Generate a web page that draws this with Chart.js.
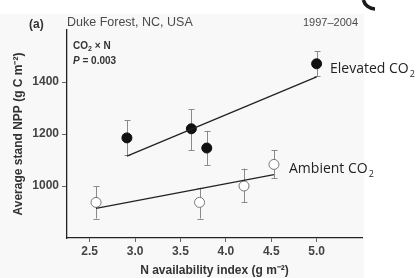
<!DOCTYPE html>
<html>
<head>
<meta charset="utf-8">
<script src="https://cdn.jsdelivr.net/npm/chart.js@4.4.1/dist/chart.umd.min.js"></script>
<style>
  html, body { margin: 0; padding: 0; background: #fff; }
  #wrap { width: 420px; height: 278px; position: relative; }
</style>
</head>
<body>
<div id="wrap"><canvas id="npp" width="420" height="278"></canvas></div>
<script>
// datos
const elevX = [2.91, 3.62, 3.79, 5.0];
const elevY = [1185, 1220, 1146, 1470];
const elevLo = [1119, 1138, 1081, 1423];
const elevHi = [1254, 1296, 1212, 1519];
const elevFitX = [2.91, 5.0];
const elevFitY = [1115, 1420];

const ambX = [2.57, 3.71, 4.2, 4.53];
const ambY = [937, 937, 1000, 1083];
const ambLo = [875, 875, 937, 1029];
const ambHi = [1000, 993, 1067, 1138];
const ambFitX = [2.57, 4.53];
const ambFitY = [914, 1044];

const xTicks = [2.5, 3.0, 3.5, 4.0, 4.5, 5.0];
const yTicks = [1000, 1200, 1400];

const pts = (xs, ys) => xs.map((x, i) => ({ x: x, y: ys[i] }));

// fondo gris claro de la figura escaneada
const fondo = {
  id: 'fondo',
  beforeDraw(chart) {
    const c = chart.ctx;
    c.save();
    c.fillStyle = '#f8f8f8';
    c.fillRect(0, 14, 364, 264);
    c.restore();
  }
};

// barras de error
const errores = {
  id: 'errores',
  beforeDatasetsDraw(chart) {
    const c = chart.ctx;
    const xs = chart.scales.x, ys = chart.scales.y;
    c.save();
    c.strokeStyle = '#8a8a8a';
    c.lineWidth = 1;
    const dibujar = (X, lo, hi) => {
      X.forEach((v, i) => {
        const px = Math.round(xs.getPixelForValue(v)) + 0.5;
        const a = ys.getPixelForValue(hi[i]);
        const b = ys.getPixelForValue(lo[i]);
        c.beginPath();
        c.moveTo(px, a); c.lineTo(px, b);
        c.moveTo(px - 3, Math.round(a) + 0.5); c.lineTo(px + 3, Math.round(a) + 0.5);
        c.moveTo(px - 3, Math.round(b) + 0.5); c.lineTo(px + 3, Math.round(b) + 0.5);
        c.stroke();
      });
    };
    dibujar(elevX, elevLo, elevHi);
    dibujar(ambX, ambLo, ambHi);
    c.restore();
  }
};

// textos de la figura
function co2(c, x, y, size) {
  c.font = size + 'px "Open Sans", "Noto Sans", sans-serif';
  c.textAlign = 'left';
  c.fillText('CO', x, y);
  const w = c.measureText('CO').width;
  c.font = Math.round(size * 0.62) + 'px "Open Sans", "Noto Sans", sans-serif';
  c.fillText('2', x + w + 1, y + 4);
}

const textos = {
  id: 'textos',
  afterDraw(chart) {
    const c = chart.ctx;
    c.save();
    c.textBaseline = 'alphabetic';
    c.fillStyle = '#333';
    c.font = 'bold 12px "Liberation Sans", Arial, sans-serif';
    c.fillText('(a)', 29, 28);
    c.fillStyle = '#4a4a4a';
    c.font = '12.5px "Liberation Sans", Arial, sans-serif';
    c.fillText('Duke Forest, NC, USA', 67, 26);
    c.font = '11px "Liberation Sans", Arial, sans-serif';
    c.textAlign = 'right';
    c.fillText('1997\u20132004', 358, 26);
    c.textAlign = 'left';

    c.fillStyle = '#333';
    c.font = 'bold 10px "Liberation Sans", Arial, sans-serif';
    c.fillText('CO', 73, 49);
    let w = c.measureText('CO').width;
    c.font = 'bold 7px "Liberation Sans", Arial, sans-serif';
    c.fillText('2', 73 + w, 51);
    c.font = 'bold 10px "Liberation Sans", Arial, sans-serif';
    c.fillText(' \u00d7 N', 73 + w + 4, 49);
    c.font = 'italic bold 10px "Liberation Sans", Arial, sans-serif';
    c.fillText('P', 73, 64);
    w = c.measureText('P').width;
    c.font = 'bold 10px "Liberation Sans", Arial, sans-serif';
    c.fillText(' = 0.003', 73 + w, 64);

    c.fillStyle = '#222';
    c.font = '14px "Open Sans", "Noto Sans", sans-serif';
    c.fillText('Elevated ', 330, 73);
    co2(c, 330 + c.measureText('Elevated ').width, 73, 14);
    c.font = '14px "Open Sans", "Noto Sans", sans-serif';
    c.fillText('Ambient ', 289, 173);
    co2(c, 289 + c.measureText('Ambient ').width, 173, 14);

    // resto de un circulo negro en la esquina
    c.strokeStyle = '#1a1a1a';
    c.lineWidth = 3.5;
    c.beginPath();
    c.arc(375, -3, 12, Math.PI * 0.5, Math.PI * 0.92);
    c.stroke();
    c.restore();
  }
};

new Chart(document.getElementById('npp'), {
  type: 'scatter',
  data: {
    datasets: [
      {
        label: 'Elevated fit', type: 'line', data: pts(elevFitX, elevFitY),
        borderColor: '#222', borderWidth: 1.3, pointRadius: 0, fill: false
      },
      {
        label: 'Ambient fit', type: 'line', data: pts(ambFitX, ambFitY),
        borderColor: '#222', borderWidth: 1.3, pointRadius: 0, fill: false
      },
      {
        label: 'Elevated CO2', data: pts(elevX, elevY),
        pointRadius: 5, pointBackgroundColor: '#111', pointBorderColor: '#111', pointBorderWidth: 1
      },
      {
        label: 'Ambient CO2', data: pts(ambX, ambY),
        pointRadius: 5, pointBackgroundColor: '#fff', pointBorderColor: '#777', pointBorderWidth: 1
      }
    ]
  },
  options: {
    responsive: false,
    animation: false,
    layout: { padding: { top: 30, right: 58, left: 0, bottom: 0 } },
    plugins: { legend: { display: false }, tooltip: { enabled: false } },
    scales: {
      x: {
        type: 'linear', min: 2.25, max: 5.5,
        afterBuildTicks: (s) => { s.ticks = xTicks.map(v => ({ value: v })); },
        afterFit: (s) => { s.height = 40; },
        grid: { drawOnChartArea: false, tickLength: 4, color: '#666' },
        border: { color: '#222', width: 1.3 },
        ticks: {
          padding: 2, color: '#444',
          font: { family: '"Liberation Sans", Arial, sans-serif', size: 12, weight: 'bold' },
          callback: (v) => Number(v).toFixed(1)
        },
        title: {
          display: true, text: 'N availability index (g m\u207b\u00b2)', color: '#333',
          font: { family: '"Liberation Sans", Arial, sans-serif', size: 12, weight: 'bold' },
          padding: { top: 2, bottom: 0 }
        }
      },
      y: {
        type: 'linear', min: 800, max: 1600,
        afterBuildTicks: (s) => { s.ticks = yTicks.map(v => ({ value: v })); },
        afterFit: (s) => { s.width = 67; },
        grid: { drawOnChartArea: false, tickLength: 5, color: '#666' },
        border: { color: '#222', width: 1.3 },
        ticks: {
          padding: 3, color: '#444',
          font: { family: '"Liberation Sans", Arial, sans-serif', size: 12, weight: 'bold' },
          callback: (v) => String(v)
        },
        title: {
          display: true, text: 'Average stand NPP (g C m\u207b\u00b2)', color: '#333',
          font: { family: '"Liberation Sans", Arial, sans-serif', size: 12, weight: 'bold' },
          padding: { top: 11, bottom: 0 }
        }
      }
    }
  },
  plugins: [fondo, errores, textos]
});
</script>
</body>
</html>
